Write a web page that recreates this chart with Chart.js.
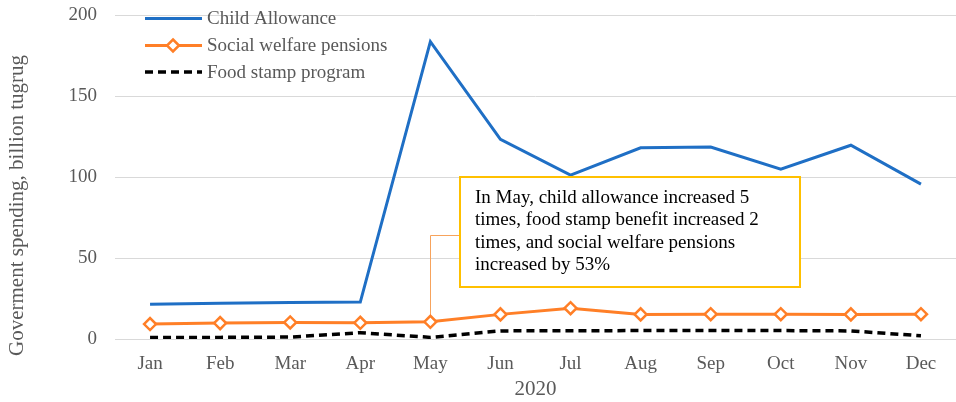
<!DOCTYPE html>
<html>
<head>
<meta charset="utf-8">
<script src="https://cdn.jsdelivr.net/npm/chart.js@4/dist/chart.umd.min.js"></script>
<style>
html,body{margin:0;padding:0;background:#fff;}
#wrap{width:956px;height:402px;position:relative;}
</style>
</head>
<body>
<div id="wrap"><canvas id="c" width="956" height="402"></canvas></div>
<script>
const months = ["Jan","Feb","Mar","Apr","May","Jun","Jul","Aug","Sep","Oct","Nov","Dec"];
const childAllowance = [21.5, 22.0, 22.5, 22.8, 183.5, 123.3, 101.2, 118.0, 118.5, 104.8, 119.6, 95.6];
const socialWelfare = [9.2, 9.8, 10.2, 10.0, 10.6, 15.2, 19.0, 15.2, 15.3, 15.3, 15.2, 15.3];
const foodStamp = [1.0, 1.0, 1.2, 3.9, 1.0, 5.0, 5.1, 5.2, 5.3, 5.2, 5.0, 2.0];
const yTicks = [0, 50, 100, 150, 200];
const seriesNames = ["Child Allowance", "Social welfare pensions", "Food stamp program"];
const xTitle = "2020";
const yTitle = "Goverment spending, billion tugrug";
const noteLines = ["In May, child allowance increased 5", "times, food stamp benefit increased 2", "times, and social welfare pensions", "increased by 53%"];
const noteMonth = "May";

const SERIF = "'Liberation Serif', 'Times New Roman', serif";
const GREY = "#595959";

const legendPlugin = {
  id: 'customLegend',
  afterDatasetsDraw(chart) {
    const ctx = chart.ctx;
    ctx.save();
    const rows = [18.5, 45.5, 72];
    chart.data.datasets.forEach((ds, i) => {
      const y = rows[i];
      ctx.beginPath();
      ctx.strokeStyle = ds.borderColor;
      ctx.lineWidth = ds.borderWidth;
      ctx.setLineDash(ds.borderDash || []);
      ctx.moveTo(145, y);
      ctx.lineTo(202, y);
      ctx.stroke();
      ctx.setLineDash([]);
      if (ds.pointRadius > 0) {
        const r = ds.pointRadius;
        const cx = 173;
        ctx.beginPath();
        ctx.moveTo(cx, y - r);
        ctx.lineTo(cx + r, y);
        ctx.lineTo(cx, y + r);
        ctx.lineTo(cx - r, y);
        ctx.closePath();
        ctx.fillStyle = '#fff';
        ctx.fill();
        ctx.lineWidth = ds.pointBorderWidth;
        ctx.strokeStyle = ds.borderColor;
        ctx.stroke();
      }
      ctx.fillStyle = GREY;
      ctx.font = "19px " + SERIF;
      ctx.textBaseline = 'middle';
      ctx.textAlign = 'left';
      ctx.fillText(ds.label, 207, y + 1);
    });
    ctx.restore();
  }
};

const yTitlePlugin = {
  id: 'yTitle',
  afterDraw(chart) {
    const ctx = chart.ctx;
    ctx.save();
    ctx.translate(17, 205.5);
    ctx.rotate(-Math.PI / 2);
    ctx.fillStyle = GREY;
    ctx.font = "21px " + SERIF;
    ctx.textAlign = 'center';
    ctx.textBaseline = 'middle';
    ctx.fillText(yTitle, 0, 0);
    ctx.restore();
  }
};

const notePlugin = {
  id: 'note',
  beforeDatasetsDraw(chart) {
    const ctx = chart.ctx;
    const xs = chart.scales.x, ys = chart.scales.y;
    const idx = months.indexOf(noteMonth);
    const px = xs.getPixelForValue(idx);
    const py = ys.getPixelForValue(socialWelfare[idx]);
    ctx.save();
    ctx.strokeStyle = '#F7A35C';
    ctx.lineWidth = 1;
    ctx.beginPath();
    ctx.moveTo(Math.round(px) + 0.5, py);
    ctx.lineTo(Math.round(px) + 0.5, 235.5);
    ctx.lineTo(459, 235.5);
    ctx.stroke();
    ctx.restore();
  },
  afterDatasetsDraw(chart) {
    const ctx = chart.ctx;
    ctx.save();
    ctx.fillStyle = '#fff';
    ctx.fillRect(459, 176, 342, 112);
    ctx.strokeStyle = '#FFC000';
    ctx.lineWidth = 2;
    ctx.strokeRect(460, 177, 340, 110);
    ctx.fillStyle = '#000';
    ctx.font = "19px " + SERIF;
    ctx.textBaseline = 'alphabetic';
    ctx.textAlign = 'left';
    noteLines.forEach((t, i) => ctx.fillText(t, 475, 203 + i * 22.4));
    ctx.restore();
  }
};

new Chart(document.getElementById('c'), {
  type: 'line',
  data: {
    labels: months,
    datasets: [
      {label: seriesNames[0], data: childAllowance, borderColor: '#1F6FC5', borderWidth: 3, pointRadius: 0, pointHoverRadius: 0, tension: 0, fill: false},
      {label: seriesNames[1], data: socialWelfare, borderColor: '#FF7F27', borderWidth: 3, pointStyle: 'rectRot', pointRadius: 6, pointBackgroundColor: '#fff', pointBorderColor: '#FF7F27', pointBorderWidth: 2.5, tension: 0, fill: false},
      {label: seriesNames[2], data: foodStamp, borderColor: '#000', borderWidth: 3.5, borderDash: [8, 5], pointRadius: 0, pointHoverRadius: 0, tension: 0, fill: false}
    ]
  },
  options: {
    responsive: false,
    animation: false,
    layout: {autoPadding: false, padding: {top: 15, right: 0, left: 0, bottom: 0}},
    plugins: {legend: {display: false}, tooltip: {enabled: false}},
    scales: {
      x: {
        offset: true,
        grid: {display: false, drawTicks: false},
        border: {display: true, color: '#D9D9D9', width: 1},
        ticks: {color: GREY, font: {family: SERIF, size: 19}, padding: 14, maxRotation: 0},
        title: {display: true, text: xTitle, color: GREY, font: {family: SERIF, size: 21}, padding: {top: 4, bottom: 0}},
        afterFit(s) { s.height = 63; s.paddingLeft = 0; s.paddingRight = 0; }
      },
      y: {
        min: 0, max: 200,
        afterBuildTicks(s) { s.ticks = yTicks.map(v => ({value: v})); },
        grid: {color: '#D9D9D9', lineWidth: 1, drawTicks: false},
        border: {display: false},
        ticks: {color: GREY, font: {family: SERIF, size: 19}, padding: 18},
        title: {display: false},
        afterFit(s) { s.width = 115; s.paddingTop = 0; s.paddingBottom = 0; }
      }
    }
  },
  plugins: [notePlugin, legendPlugin, yTitlePlugin]
});
</script>
</body>
</html>
